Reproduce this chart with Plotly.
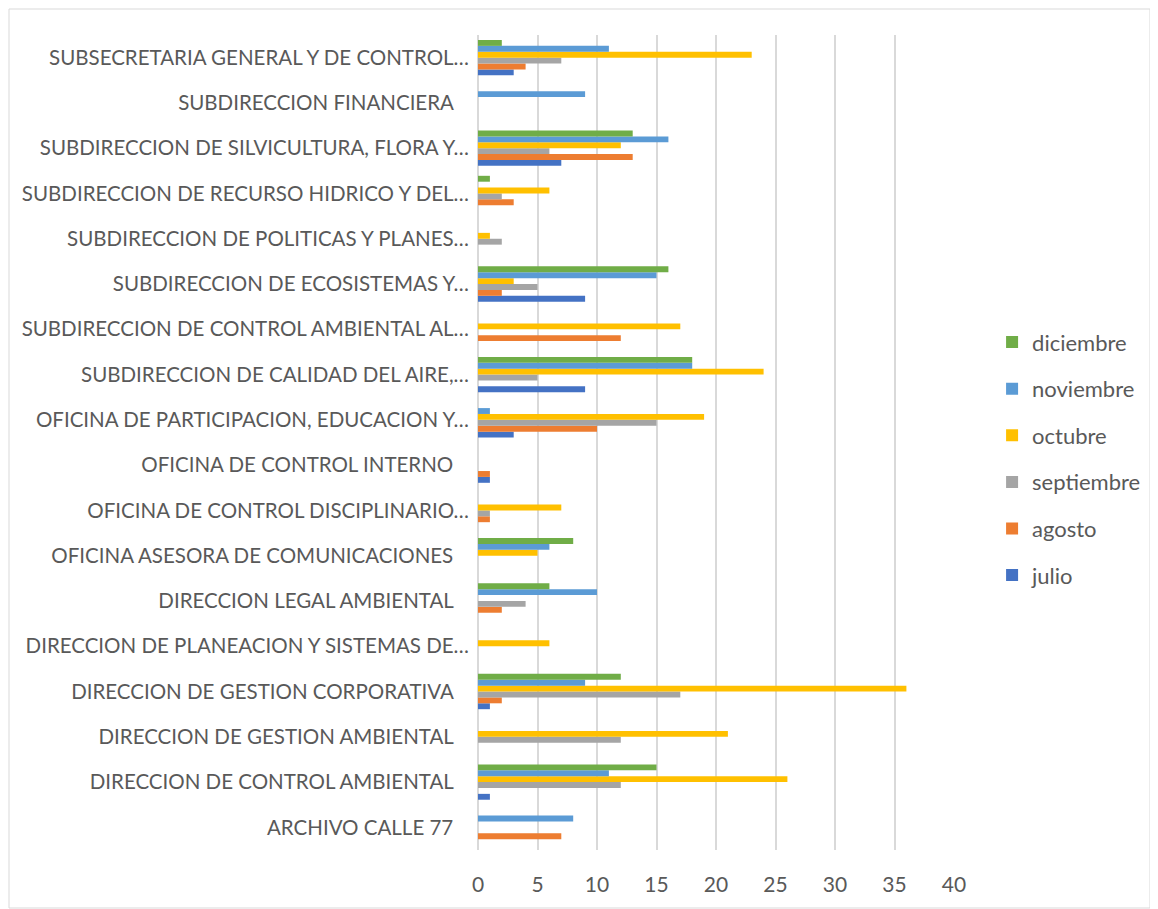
import plotly.graph_objects as go

categorias = [
    "ARCHIVO CALLE 77\u00a0\u00a0\u00a0",
    "DIRECCION DE CONTROL AMBIENTAL\u00a0\u00a0\u00a0",
    "DIRECCION DE GESTION AMBIENTAL\u00a0\u00a0\u00a0",
    "DIRECCION DE GESTION CORPORATIVA\u00a0\u00a0\u00a0",
    "DIRECCION DE PLANEACION Y SISTEMAS DE…",
    "DIRECCION LEGAL AMBIENTAL\u00a0\u00a0\u00a0",
    "OFICINA ASESORA DE COMUNICACIONES\u00a0\u00a0\u00a0",
    "OFICINA DE CONTROL DISCIPLINARIO…",
    "OFICINA DE CONTROL INTERNO\u00a0\u00a0\u00a0",
    "OFICINA DE PARTICIPACION, EDUCACION Y…",
    "SUBDIRECCION DE CALIDAD DEL AIRE,…",
    "SUBDIRECCION DE CONTROL AMBIENTAL AL…",
    "SUBDIRECCION DE ECOSISTEMAS Y…",
    "SUBDIRECCION DE POLITICAS Y PLANES…",
    "SUBDIRECCION DE RECURSO HIDRICO Y DEL…",
    "SUBDIRECCION DE SILVICULTURA, FLORA Y…",
    "SUBDIRECCION FINANCIERA\u00a0\u00a0\u00a0",
    "SUBSECRETARIA GENERAL Y DE CONTROL…",
]

julio      = [0, 1, 0, 1, 0, 0, 0, 0, 1, 3, 9, 0, 9, 0, 0, 7, 0, 3]
agosto     = [7, 0, 0, 2, 0, 2, 0, 1, 1, 10, 0, 12, 2, 0, 3, 13, 0, 4]
septiembre = [0, 12, 12, 17, 0, 4, 0, 1, 0, 15, 5, 0, 5, 2, 2, 6, 0, 7]
octubre    = [0, 26, 21, 36, 6, 0, 5, 7, 0, 19, 24, 17, 3, 1, 6, 12, 0, 23]
noviembre  = [8, 11, 0, 9, 0, 10, 6, 0, 0, 1, 18, 0, 15, 0, 0, 16, 9, 11]
diciembre  = [0, 15, 0, 12, 0, 6, 8, 0, 0, 0, 18, 0, 16, 0, 1, 13, 0, 2]

series = [
    ("julio", julio, "#4472C4"),
    ("agosto", agosto, "#ED7D31"),
    ("septiembre", septiembre, "#A5A5A5"),
    ("octubre", octubre, "#FFC000"),
    ("noviembre", noviembre, "#5B9BD5"),
    ("diciembre", diciembre, "#70AD47"),
]

# la pagina tiene un margen de 8px, por eso la figura es algo mas chica
W, H = 1150, 901
ML, MR, MT, MB = 470, 204, 27, 59
texto = "#595959"
fuente = "Lato"

fig = go.Figure()
for i, (nombre, valores, color) in enumerate(series):
    fig.add_trace(go.Bar(
        y=categorias,
        x=valores,
        name=nombre,
        orientation="h",
        marker=dict(color=color, line=dict(width=0)),
        legendgroup=nombre,
        legendrank=len(series) - i,  # diciembre arriba en la leyenda
    ))

pw = W - ML - MR
ph = H - MT - MB
fig.add_shape(
    type="rect", xref="paper", yref="paper",
    x0=(1 - ML) / pw, x1=(1142 - ML) / pw,
    y0=-(H - 1 - (H - MB)) / ph, y1=1 + (MT - 1) / ph,
    line=dict(color="#D9D9D9", width=1), layer="below",
)

fig.update_layout(
    width=W, height=H,
    margin=dict(l=ML, r=MR, t=MT, b=MB),
    barmode="group",
    bargap=0.22,
    bargroupgap=0,
    plot_bgcolor="white",
    paper_bgcolor="white",
    font=dict(family=fuente, size=20, color=texto),
    legend=dict(
        traceorder="grouped",
        x=1.08, xanchor="left",
        y=0.48, yanchor="middle",
        font=dict(size=22, color=texto),
        tracegroupgap=15,
        itemwidth=30,
        bgcolor="rgba(0,0,0,0)",
    ),
    xaxis=dict(
        range=[0, 40],
        dtick=5,
        showgrid=True,
        gridcolor="#D9D9D9",
        gridwidth=2,
        zeroline=True,
        zerolinecolor="#D9D9D9",
        zerolinewidth=2,
        ticks="",
        ticklabelstandoff=20,
        tickfont=dict(size=21, color=texto),
    ),
    yaxis=dict(
        showgrid=False,
        ticks="",
        ticklabelstandoff=8,
        tickfont=dict(size=20.5, color=texto),
        automargin=False,
    ),
)

fig.write_html("out.html")
